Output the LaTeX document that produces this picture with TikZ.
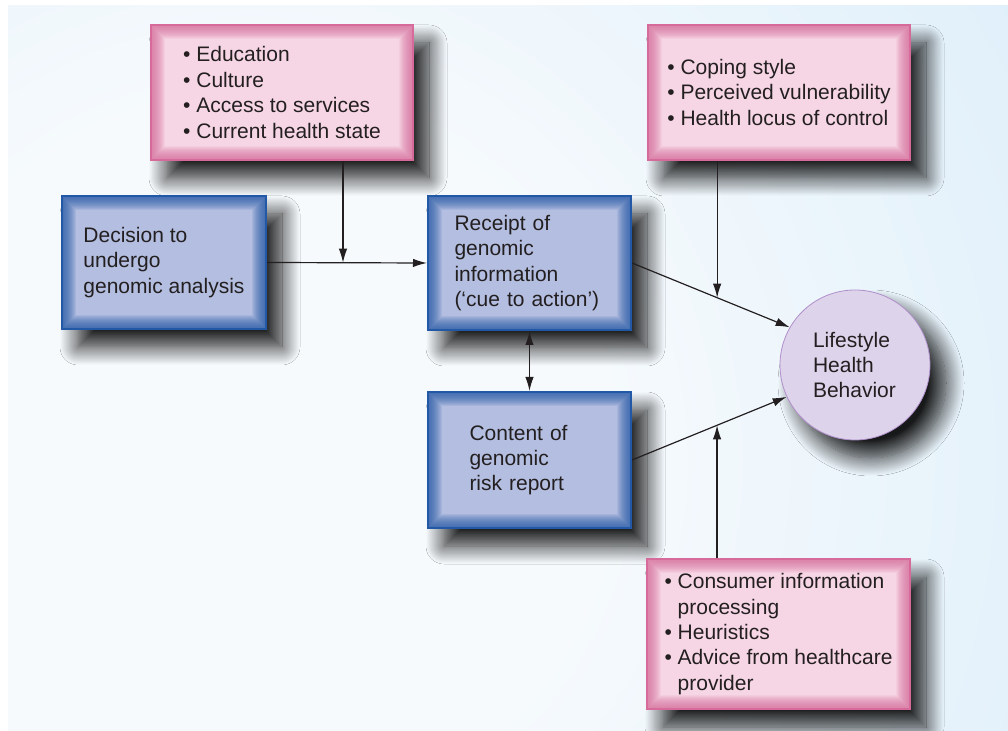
\documentclass[tikz,border=0pt]{standalone}
\usepackage{fontspec}
\setmainfont{Liberation Sans}
\usetikzlibrary{arrows.meta,shadows.blur}

\definecolor{bgblue}{HTML}{D8ECF9}
\definecolor{bgwhite}{HTML}{F6FAFD}
\definecolor{pinkfill}{HTML}{F6D6E4}
\definecolor{pinkedge}{HTML}{D66A9A}
\definecolor{bluefill}{HTML}{B3BEE0}
\definecolor{blueedge}{HTML}{2258A6}
\definecolor{lavfill}{HTML}{DDD3EA}
\definecolor{lavedge}{HTML}{8E5FB5}
\definecolor{inkgray}{HTML}{231F20}

\pgfdeclareradialshading{bgglow}{\pgfpoint{0bp}{0bp}}{color(0bp)=(bgwhite); color(10bp)=(bgwhite); color(30bp)=(bgblue); color(50bp)=(bgblue)}
\pgfdeclareradialshading{orb}{\pgfpoint{0bp}{0bp}}{color(0bp)=(lavfill); color(37bp)=(lavfill); color(50bp)=(lavedge)}

\tikzset{
  glow/.style={path picture={
    \foreach \w in {1,...,14}
      \draw[#1, line width=\w pt, opacity=0.09]
        (path picture bounding box.south west) rectangle (path picture bounding box.north east);
  }},
  boxshadow/.style={blur shadow={shadow xshift=8pt, shadow yshift=-9pt,
    shadow blur radius=9pt, shadow blur steps=20, shadow opacity=90}},
  factor/.style={rectangle, boxshadow, fill=pinkfill, draw=pinkedge, line width=0.8pt,
    glow=pinkedge, align=left, inner xsep=0pt, minimum width=131pt, minimum height=67.5pt,
    text=inkgray, font=\fontsize{10.5}{12.7}\selectfont},
  stage/.style={rectangle, boxshadow, fill=bluefill, draw=blueedge, line width=1pt,
    glow=blueedge, align=left, inner xsep=0pt, minimum width=101.5pt, minimum height=67pt,
    text=inkgray, font=\fontsize{10.5}{12.7}\selectfont},
  outcome/.style={circle, boxshadow, shading=orb, draw=lavedge!70, line width=0.4pt,
    minimum size=75pt, inner sep=0pt, align=left, text width=42pt, text=inkgray,
    font=\fontsize{10.5}{12.7}\selectfont},
  link/.style={draw=inkgray, line width=0.6pt},
  >={Latex[length=7pt,width=4.2pt]}
}

\begin{document}
\begin{tikzpicture}[x=0.5pt,y=0.5pt]
  \useasboundingbox (0,0) rectangle (1008,-731);
  % background
  \begin{scope}
    \clip (8,-6) rectangle (1008,-731);
    \shade[shading=bgglow] (250,-460) circle (900);
  \end{scope}

  % nodes
  \node[factor] (society) at (282,-92.5)
    {• Education\\• Culture\\• Access to services\\• Current health state};
  \node[factor] (psych) at (779,-92.5)
    {• Coping style\\• Perceived vulnerability\\• Health locus of control};
  \node[stage, minimum width=102pt, minimum height=66.5pt] (decision) at (164,-262.5)
    {Decision to\\undergo\\genomic analysis};
  \node[stage, text width=75pt] (receipt) at (529.5,-263)
    {Receipt of\\genomic\\information\\(‘cue to action’)};
  \node[stage, text width=60pt, minimum height=68pt] (report) at (529.5,-460)
    {Content of\\genomic\\risk report};
  \node[outcome] (behavior) at (855,-365)
    {Lifestyle\\Health\\Behavior};
  \node[factor, minimum width=131.5pt, minimum height=75pt] (advice) at (778.5,-634)
    {• Consumer information\\\phantom{• }processing\\• Heuristics\\• Advice from healthcare\\\phantom{• }provider};

  % connectors
  \begin{scope}[link]
    \draw[->] (decision.east) -- coordinate[pos=0.475] (join1) (receipt.west);
    \draw[->] (society.south -| join1) -- (join1);
    \draw[->] (receipt.east) -- coordinate[pos=0.54] (join2) (behavior.150);
    \draw[->] (psych.south -| join2) -- (join2);
    \draw[<->] (receipt.south) -- (report.north);
    \draw[->] (report.east) -- coordinate[pos=0.55] (join3) (behavior.205);
    \draw[->] (advice.north -| join3) -- (join3);
  \end{scope}
\end{tikzpicture}
\end{document}
